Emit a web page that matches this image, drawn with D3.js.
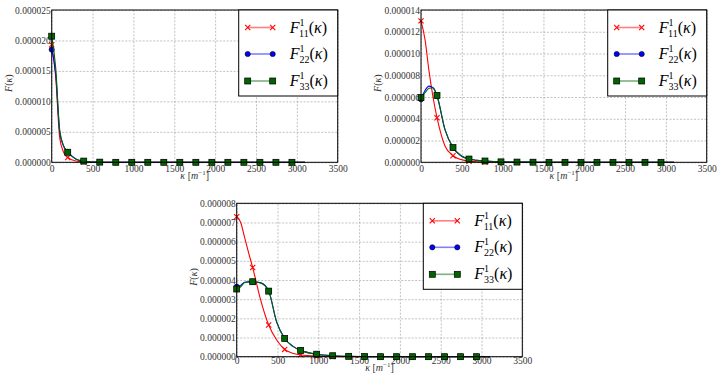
<!DOCTYPE html>
<html>
<head>
<meta charset="utf-8">
<script src="https://cdn.jsdelivr.net/npm/d3@7"></script>
<style>
  body { margin: 0; background: #fff; }
  svg text { font-family: "Liberation Serif", "DejaVu Serif", serif; }
</style>
</head>
<body>
<svg id="chart" width="717" height="375"></svg>
<script>
// wavenumber grid [m^-1]; markers every 196
const kappa = [0, 49, 98, 147, 196, 294, 392, 490, 588, 686, 784, 980, 1176, 1372, 1568, 1764, 1960, 2156, 2352, 2548, 2744, 2940, 3100];
const xTicks = [0, 500, 1000, 1500, 2000, 2500, 3000, 3500];
const seriesNames = ['11', '22', '33'];

// values in 1e-6 units
const panelA11 = [19.3, 14, 4.0, 1.6, 0.8, 0.2, 0.05, 0.02, 0.01, 0, 0, 0, 0, 0, 0, 0, 0, 0, 0, 0, 0, 0, 0];
const panelA22 = [18.5, 14.5, 5.0, 2.6, 1.7, 0.55, 0.15, 0.05, 0.02, 0.01, 0, 0, 0, 0, 0, 0, 0, 0, 0, 0, 0, 0, 0];
const panelA33 = [20.7, 15.5, 5.3, 2.7, 1.65, 0.55, 0.2, 0.06, 0.03, 0.01, 0, 0, 0, 0, 0, 0, 0, 0, 0, 0, 0, 0, 0];

const panelB11 = [13.0, 11.3, 8.4, 6.0, 4.1, 1.5, 0.6, 0.25, 0.1, 0.05, 0.02, 0.01, 0, 0, 0, 0, 0, 0, 0, 0, 0, 0, 0];
const panelB22 = [5.8, 6.6, 7.0, 6.85, 6.1, 3.0, 1.35, 0.6, 0.3, 0.18, 0.12, 0.04, 0.02, 0.01, 0, 0, 0, 0, 0, 0, 0, 0, 0];
const panelB33 = [5.95, 6.4, 6.8, 6.85, 6.15, 3.0, 1.35, 0.6, 0.3, 0.18, 0.12, 0.04, 0.02, 0.01, 0, 0, 0, 0, 0, 0, 0, 0, 0];

const panelC11 = [7.3, 7.0, 6.2, 5.4, 4.65, 2.95, 1.65, 0.87, 0.38, 0.18, 0.1, 0.03, 0.01, 0, 0, 0, 0, 0, 0, 0, 0, 0, 0];
const panelC22 = [3.65, 3.72, 3.88, 3.9, 3.9, 3.85, 3.42, 1.8, 0.95, 0.55, 0.33, 0.13, 0.05, 0.02, 0.01, 0, 0, 0, 0, 0, 0, 0, 0];
const panelC33 = [3.53, 3.65, 3.87, 3.9, 3.91, 3.85, 3.42, 1.8, 0.95, 0.55, 0.33, 0.13, 0.05, 0.02, 0.01, 0, 0, 0, 0, 0, 0, 0, 0];

const yMaxA = 25, yStepA = 5;
const yMaxB = 14, yStepB = 2;
const yMaxC = 8, yStepC = 1;

const svg = d3.select('#chart');
const colors = { '11': '#ff0000', '22': '#0000ff', '33': '#006400' };
const legendColors = { '11': '#ff8080', '22': '#8080ff', '33': '#7fb17f' };
const fmt = d3.format('.6f');

function drawMarker(g, name, cx, cy) {
  if (name === '11') {
    const s = 2.6;
    g.append('path')
      .attr('d', `M${cx - s},${cy - s}L${cx + s},${cy + s}M${cx - s},${cy + s}L${cx + s},${cy - s}`)
      .attr('stroke', colors[name]).attr('stroke-width', 1.1).attr('fill', 'none');
  } else if (name === '22') {
    g.append('circle').attr('cx', cx).attr('cy', cy).attr('r', 2.6)
      .attr('fill', colors[name]).attr('stroke', '#000').attr('stroke-width', 0.6);
  } else {
    g.append('rect').attr('x', cx - 3).attr('y', cy - 3).attr('width', 6).attr('height', 6)
      .attr('fill', colors[name]).attr('stroke', '#000').attr('stroke-width', 0.7);
  }
}

function drawPanel(p) {
  const x = d3.scaleLinear().domain([0, 3500]).range([p.left, p.right]);
  const y = d3.scaleLinear().domain([0, p.ymax]).range([p.bottom, p.top]);
  const yTicks = d3.range(0, p.ymax + p.ystep / 2, p.ystep);
  const g = svg.append('g');

  // grid
  g.append('g')
    .attr('transform', `translate(0,${p.bottom})`)
    .call(d3.axisBottom(x).tickValues(xTicks).tickSize(-(p.bottom - p.top)).tickFormat(''))
    .call(a => a.select('.domain').remove())
    .call(a => a.selectAll('line').attr('stroke', '#999').attr('stroke-dasharray', '2,1.5').attr('stroke-width', 0.6));
  g.append('g')
    .attr('transform', `translate(${p.left},0)`)
    .call(d3.axisLeft(y).tickValues(yTicks).tickSize(-(p.right - p.left)).tickFormat(''))
    .call(a => a.select('.domain').remove())
    .call(a => a.selectAll('line').attr('stroke', '#999').attr('stroke-dasharray', '2,1.5').attr('stroke-width', 0.6));

  // tick labels
  g.append('g')
    .attr('transform', `translate(0,${p.bottom})`)
    .call(d3.axisBottom(x).tickValues(xTicks).tickSize(0).tickPadding(p.xpad).tickFormat(d3.format('d')))
    .call(a => a.select('.domain').remove())
    .call(a => a.selectAll('text').attr('font-size', 9.5).attr('fill', '#333').style('font-family', '"Liberation Serif", serif'));
  g.append('g')
    .attr('transform', `translate(${p.left},0)`)
    .call(d3.axisLeft(y).tickValues(yTicks).tickSize(0).tickPadding(1).tickFormat(d => fmt(d * 1e-6)))
    .call(a => a.select('.domain').remove())
    .call(a => a.selectAll('text').attr('font-size', 9.5).attr('fill', '#333').style('font-family', '"Liberation Serif", serif'));

  // curves
  const line = d3.line().x((d, i) => x(kappa[i])).y(d => y(d)).curve(d3.curveMonotoneX);
  seriesNames.forEach((name, si) => {
    const vals = p.series[si];
    g.append('path').attr('d', line(vals))
      .attr('fill', 'none').attr('stroke', colors[name]).attr('stroke-width', 1.1);
    const mg = g.append('g');
    vals.forEach((v, i) => {
      if (kappa[i] % 196 === 0) drawMarker(mg, name, x(kappa[i]), y(v));
    });
  });

  // frame
  g.append('rect')
    .attr('x', p.left).attr('y', p.top)
    .attr('width', p.right - p.left).attr('height', p.bottom - p.top)
    .attr('fill', 'none').attr('stroke', '#000').attr('stroke-width', 1);

  // axis labels
  const xl = g.append('text')
    .attr('x', (p.left + p.right) / 2).attr('y', p.bottom + p.xlab)
    .attr('text-anchor', 'middle').attr('font-size', 10).attr('fill', '#333');
  xl.append('tspan').attr('font-style', 'italic').text('κ');
  xl.append('tspan').text(' [');
  xl.append('tspan').attr('font-style', 'italic').text('m');
  xl.append('tspan').attr('font-size', 7).attr('dy', -4).text('−1');
  xl.append('tspan').attr('dy', 4).text(']');

  const yl = g.append('text')
    .attr('transform', `translate(${p.left - 40},${(p.top + p.bottom) / 2 - 3}) rotate(-90)`)
    .attr('text-anchor', 'middle').attr('font-size', 10).attr('fill', '#333');
  yl.append('tspan').attr('font-style', 'italic').text('F');
  yl.append('tspan').text('(');
  yl.append('tspan').attr('font-style', 'italic').text('κ');
  yl.append('tspan').text(')');

  // legend
  const lw = 99, lh = 86;
  const lx = p.right - lw, ly = p.top;
  const lg = g.append('g');
  lg.append('rect').attr('x', lx).attr('y', ly).attr('width', lw).attr('height', lh)
    .attr('fill', '#fff').attr('stroke', '#000').attr('stroke-width', 1);
  const rows = [17.5, 44, 71];
  seriesNames.forEach((name, i) => {
    const ry = ly + rows[i];
    lg.append('line').attr('x1', lx + 9).attr('x2', lx + 34).attr('y1', ry).attr('y2', ry)
      .attr('stroke', legendColors[name]).attr('stroke-width', 1.6);
    drawMarker(lg, name, lx + 9, ry);
    drawMarker(lg, name, lx + 34, ry);
    const t = lg.append('text').attr('x', lx + 51).attr('y', ry + 5).attr('font-size', 16).attr('fill', '#000');
    t.append('tspan').attr('font-style', 'italic').text('F');
    t.append('tspan').attr('font-size', 10).attr('dy', -7).text('1');
    t.append('tspan').attr('font-size', 10).attr('dx', -5).attr('dy', 11).text(name);
    t.append('tspan').attr('dy', -4).text('(');
    t.append('tspan').attr('font-style', 'italic').text('κ');
    t.append('tspan').text(')');
  });
}

drawPanel({ left: 51.7, right: 337.7, top: 10, bottom: 162.3, ymax: yMaxA, ystep: yStepA, xpad: 3, xlab: 17, series: [panelA11, panelA22, panelA33] });
drawPanel({ left: 421, right: 706.7, top: 10, bottom: 162.3, ymax: yMaxB, ystep: yStepB, xpad: 3, xlab: 17, series: [panelB11, panelB22, panelB33] });
drawPanel({ left: 236.7, right: 522.3, top: 203.3, bottom: 356.7, ymax: yMaxC, ystep: yStepC, xpad: 1, xlab: 14, series: [panelC11, panelC22, panelC33] });
</script>
</body>
</html>
